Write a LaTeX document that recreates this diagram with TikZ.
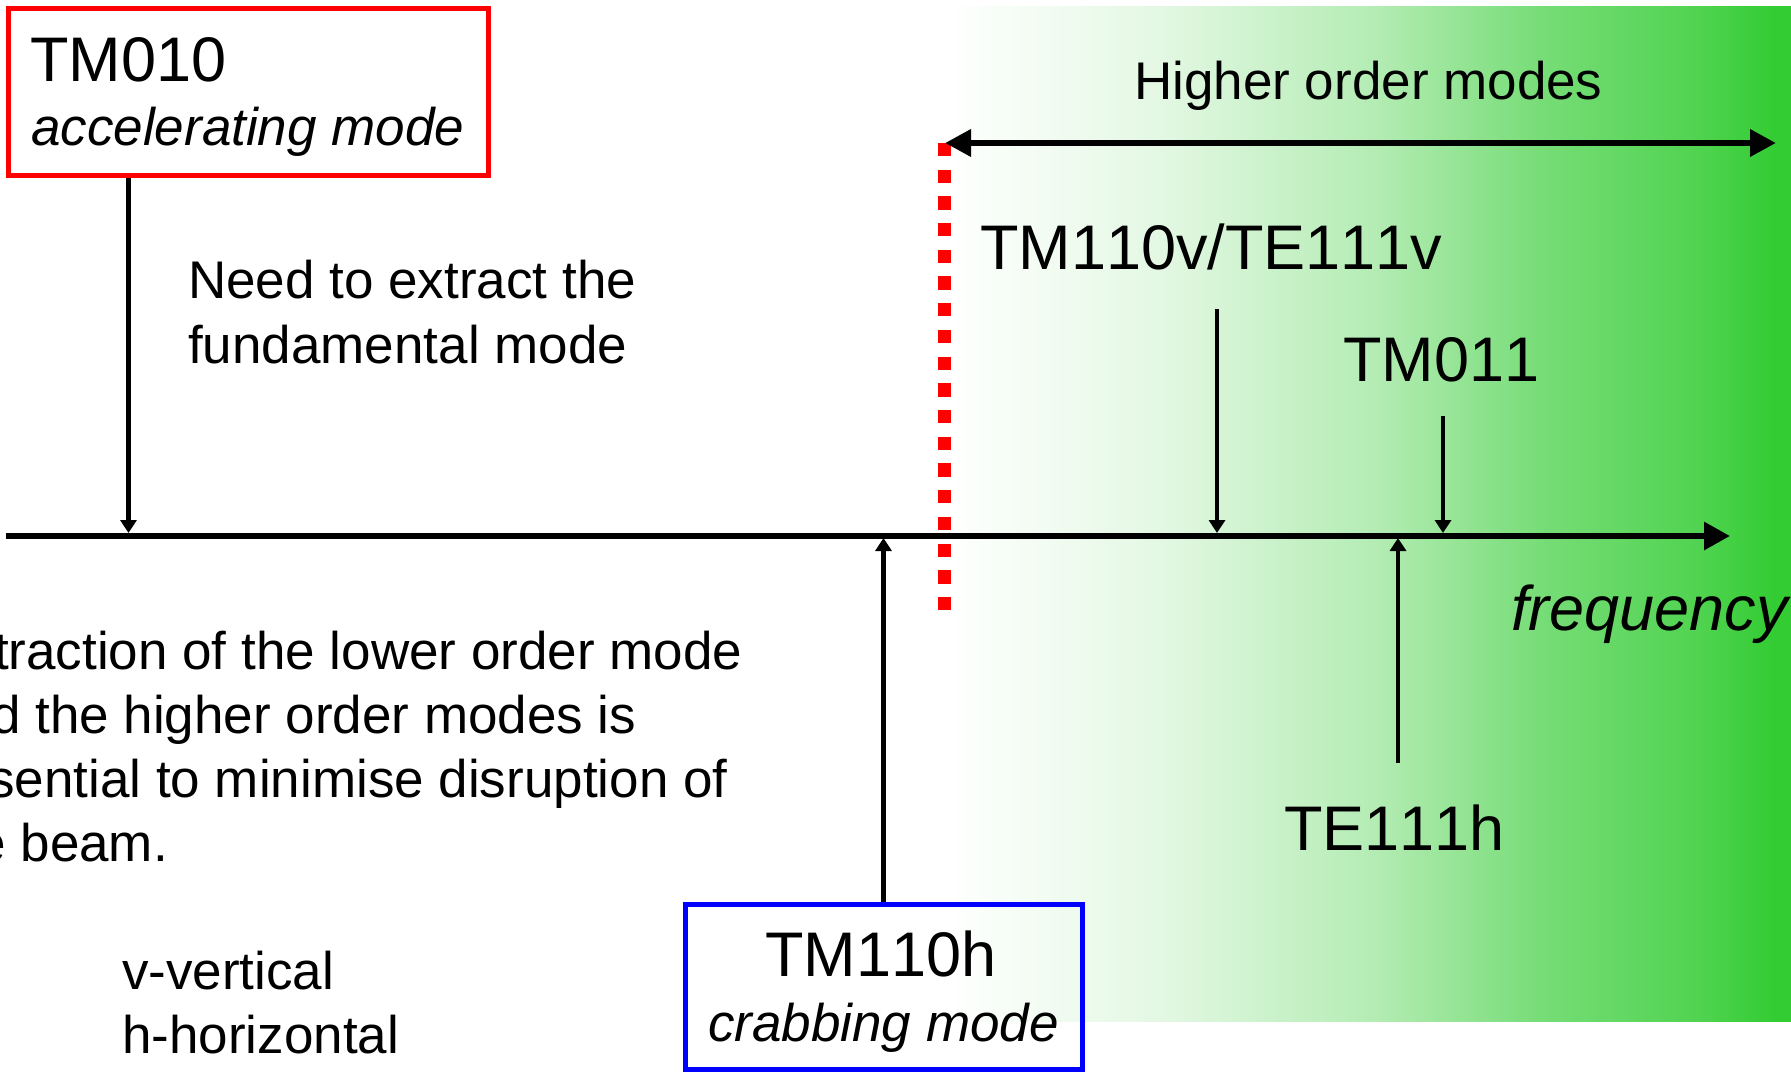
\documentclass[tikz,border=0pt]{standalone}
\usepackage{fontspec}
\setmainfont[Kerning=Off]{Liberation Sans}
\usetikzlibrary{arrows.meta}
\definecolor{hA}{RGB}{228,248,228}
\definecolor{hB}{RGB}{180,236,180}
\definecolor{hC}{RGB}{120,221,120}
\definecolor{hD}{RGB}{80,211,80}
\definecolor{hE}{RGB}{51,204,51}
\pgfdeclarehorizontalshading{homshade}{100bp}{color(0bp)=(white); color(25bp)=(white); color(37.5bp)=(hA); color(50.4bp)=(hB); color(60bp)=(hC); color(69.6bp)=(hD); color(74bp)=(hE); color(100bp)=(hE)}
\begin{document}
\begin{tikzpicture}[x=1pt,y=-1pt,
  txt/.style={inner sep=0pt, anchor=base west, font=\fontsize{53}{64}\selectfont},
  bigtxt/.style={inner sep=0pt, anchor=base west, font=\fontsize{63}{76}\selectfont},
  ittxt/.style={inner sep=0pt, anchor=base west, font=\fontsize{53}{64}\selectfont\itshape},
  modearrow/.style={line width=4.5pt, -{Triangle[length=13pt,width=16pt]}},
  axisline/.style={line width=6pt, -{Triangle[length=26pt,width=27pt]}},
  homarrow/.style={line width=6.5pt, {Triangle[length=26pt,width=26pt]}-{Triangle[length=26pt,width=26pt]}},
  modebox/.style={line width=5pt, inner sep=0pt, anchor=north west},
  cutline/.style={draw=red, line width=13pt, dash pattern=on 13.3pt off 13.4pt}
]
\useasboundingbox (0,0) rectangle (1791,1075);
\clip (0,0) rectangle (1791,1075);
\fill[white] (0,0) rectangle (1791,1075);
\shade[shading=homshade] (945,7) rectangle (1791,1021);

% boxes
\node[modebox, draw=red, minimum width=480pt, minimum height=167pt] (accbox) at (5.5,6) {};
\node[modebox, draw=blue, minimum width=397pt, minimum height=164.5pt] (crabbox) at (682.5,902) {};

% texts
\node[bigtxt] (tm010) at (30,82) {TM010};
\node[ittxt] (acc) at (31,146) {accelerating mode};
\node[txt] (need1) at (188,299) {Need to extract the};
\node[txt] (need2) at (188,363) {fundamental mode};
\node[txt] (ext1) at (-68,669) {Extraction of the lower order mode};
\node[txt] (ext2) at (-68,733) {and the higher order modes is};
\node[txt] (ext3) at (-68,797) {essential to minimise disruption of};
\node[txt] (ext4) at (-68,861) {the beam.};
\node[txt] (vv) at (122,989) {v-vertical};
\node[txt] (hh) at (122,1053) {h-horizontal};
\node[txt] (hom) at (1134,100) {Higher order modes};
\node[bigtxt] (tm110v) at (980,270) {TM110v/TE111v};
\node[bigtxt] (tm011) at (1343,381) {TM011};
\node[bigtxt] (te111h) at (1284,850) {TE111h};
\node[bigtxt, font=\fontsize{63}{76}\selectfont\itshape] (freq) at (1511,630) {frequency};
\node[bigtxt, anchor=base] (tm110h) at (881,976) {TM110h};
\node[ittxt] (crab) at (708,1041) {crabbing mode};

% coordinates
\coordinate (axL) at (6,536);
\coordinate (axR) at (1730,536);
\coordinate (cutT) at (944,143);
\coordinate (cutB) at (944,610);
\coordinate (homL) at (945,143);
\coordinate (homR) at (1776,143);
\coordinate (a010) at (128.5,533);
\coordinate (a110hx) at (883.5,538);
\coordinate (s110v) at (1217,309);
\coordinate (a110v) at (1217,533);
\coordinate (s011) at (1443,416);
\coordinate (a011) at (1443,533);
\coordinate (s111h) at (1398,763);
\coordinate (a111h) at (1398,538);

% lines
\draw[cutline] (cutT) -- (cutB);
\draw[axisline] (axL) -- (axR);
\draw[homarrow] (homL) -- (homR);
\draw[modearrow] (accbox.south -| a010) -- (a010);
\draw[modearrow] (crabbox.north -| a110hx) -- (a110hx);
\draw[modearrow] (s110v) -- (a110v);
\draw[modearrow] (s011) -- (a011);
\draw[modearrow] (s111h) -- (a111h);
\end{tikzpicture}
\end{document}
